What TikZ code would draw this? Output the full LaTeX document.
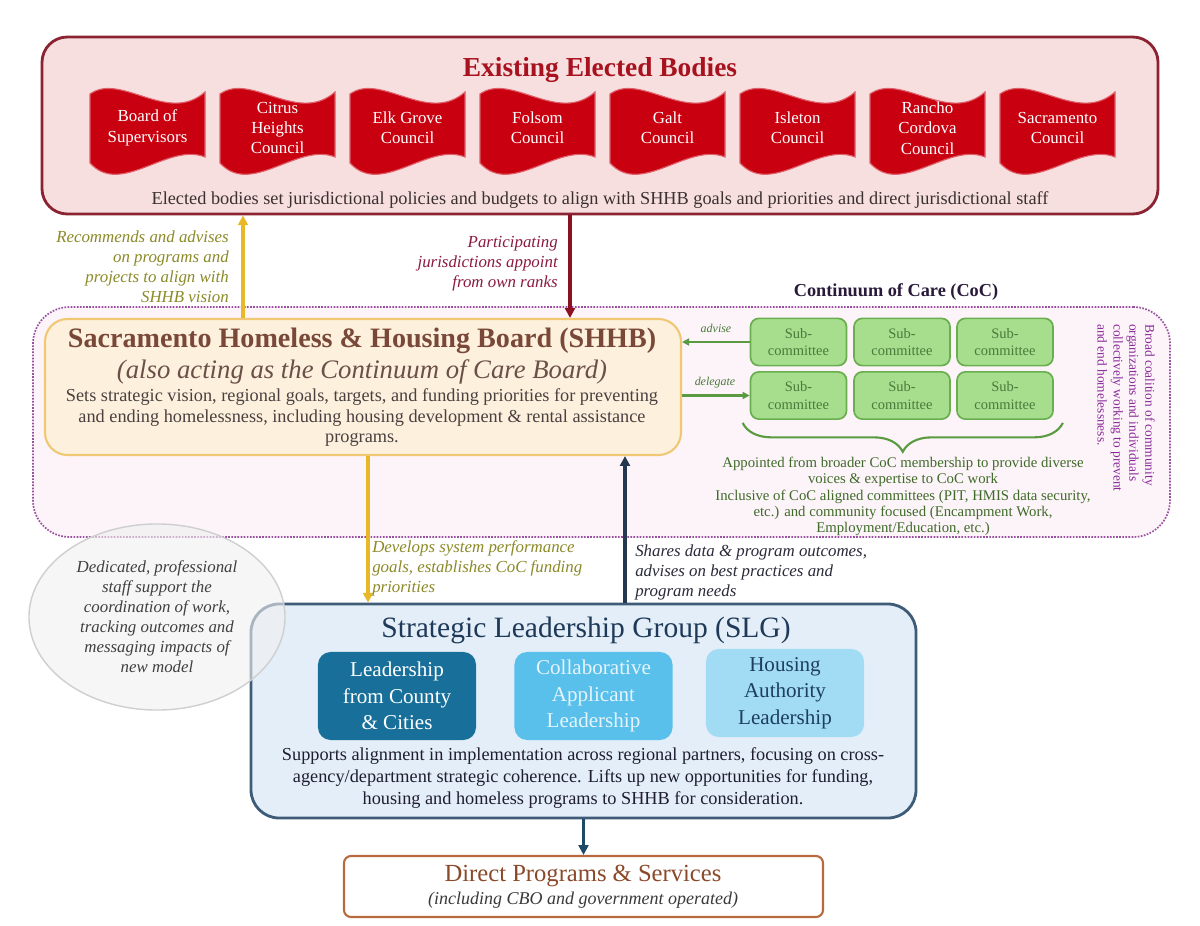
\documentclass[tikz,border=0pt]{standalone}
\usepackage{fontspec}
\setmainfont{Liberation Serif}
\usepackage{xcolor}
\usepackage{tikz}
\usetikzlibrary{arrows.meta,positioning,fit,shapes.geometric,decorations.pathreplacing,calc}

\definecolor{topfill}{HTML}{F7DFE0}
\definecolor{topline}{HTML}{8B2332}
\definecolor{toptitle}{HTML}{A8121E}
\definecolor{flagred}{HTML}{C8000F}
\definecolor{flagedge}{HTML}{E0606A}
\definecolor{captext}{HTML}{3A3030}
\definecolor{goldline}{HTML}{E8B828}
\definecolor{goldtext}{HTML}{8C8A28}
\definecolor{redline}{HTML}{8B1020}
\definecolor{redtext}{HTML}{8B1A40}
\definecolor{cocfill}{HTML}{FCF4F8}
\definecolor{cocline}{HTML}{9A50A0}
\definecolor{coctitle}{HTML}{2A1A3A}
\definecolor{cocside}{HTML}{8A2A9A}
\definecolor{shhbfill}{HTML}{FDF1DE}
\definecolor{shhbline}{HTML}{F0C874}
\definecolor{shhbtitle}{HTML}{7A4838}
\definecolor{shhbsub}{HTML}{6A5048}
\definecolor{shhbtext}{HTML}{4A4040}
\definecolor{subfill}{HTML}{A6DE8E}
\definecolor{subline}{HTML}{6AAE50}
\definecolor{subtext}{HTML}{4A7A3A}
\definecolor{greenline}{HTML}{5A9A40}
\definecolor{bracetext}{HTML}{3F6A2A}
\definecolor{navyline}{HTML}{243850}
\definecolor{navytext}{HTML}{2A2A3A}
\definecolor{ellfill}{HTML}{F0F0F0}
\definecolor{ellline}{HTML}{CFCFCF}
\definecolor{elltext}{HTML}{404040}
\definecolor{slgfill}{HTML}{E4EEF8}
\definecolor{slgline}{HTML}{3E5C78}
\definecolor{slgtitle}{HTML}{1E3A58}
\definecolor{slgtext}{HTML}{1E1E2E}
\definecolor{leadone}{HTML}{18709A}
\definecolor{leadtwo}{HTML}{58C0EA}
\definecolor{leadtwotext}{HTML}{E6F4FC}
\definecolor{leadthree}{HTML}{A2DCF4}
\definecolor{leadthreetext}{HTML}{1E3E60}
\definecolor{tealline}{HTML}{1E4A68}
\definecolor{directline}{HTML}{B86A3E}
\definecolor{directtitle}{HTML}{8A4A2A}
\definecolor{directsub}{HTML}{3A3A3A}

\begin{document}
\begin{tikzpicture}[x=0.025cm, y=-0.025cm,
	arrowgold/.style={draw=goldline, line width=2.2pt, -{Triangle[length=7pt,width=7pt]}},
	arrowred/.style={draw=redline, line width=2.2pt, -{Triangle[length=7pt,width=7pt]}},
	arrownavy/.style={draw=navyline, line width=2.2pt, -{Triangle[length=7pt,width=7pt]}},
	arrowgreen/.style={draw=greenline, line width=1.6pt, -{Triangle[length=5pt,width=5pt]}},
	subbox/.style={draw=subline, fill=subfill, line width=1.2pt, rounded corners=6pt, minimum width=2.4cm, minimum height=1.18cm, align=center, text=subtext, font=\fontsize{10.3}{12.5}\selectfont, inner sep=0pt},
	leadbox/.style={rounded corners=9pt, minimum width=3.95cm, minimum height=2.2cm, align=center, font=\fontsize{15}{19}\selectfont, inner sep=0pt},
	note/.style={font=\itshape\fontsize{12}{14.2}\selectfont, inner sep=0pt},
	]
	
	% 0. canvas
	\useasboundingbox (0,0) rectangle (1200,925);
	\fill[white] (0,0) rectangle (1200,925);
	
	% 1. existing elected bodies
	\node[fit={(42,37) (1158,214)}, inner sep=0pt, draw=topline, line width=2pt, fill=topfill, rounded corners=18pt] (top) {};
	\node[font=\bfseries\fontsize{19.5}{23}\selectfont, text=toptitle] (toptitle) at (600,70) {Existing Elected Bodies};
	
	% flags, one per body
	\foreach \txt [count=\i from 0] in {{Board of\\Supervisors}, {Citrus\\Heights\\Council}, {Elk Grove\\Council}, {Folsom\\Council}, {Galt\\Council}, {Isleton\\Council}, {Rancho\\Cordova\\Council}, {Sacramento\\Council}} {
		\begin{scope}[shift={(90+130*\i,85)}]
			\filldraw[fill=flagred, draw=flagedge, line width=0.8pt] (0,9) .. controls (31,-13) and (78,40) .. (115,7) -- (115,72) .. controls (78,57) and (31,112) .. (0,78) -- cycle;
			\node[text=white, align=center, font=\fontsize{12}{14.5}\selectfont] (flag\i) at (57.5,43) {\txt};
		\end{scope}
	}
	
	\node[font=\fontsize{13}{15}\selectfont, text=captext] (topcap) at (600,200) {Elected bodies set jurisdictional policies and budgets to align with SHHB goals and priorities and direct jurisdictional staff};
	
	% 2. continuum of care region
	\node[fit={(33,307) (1170,537)}, inner sep=0pt, draw=cocline, densely dotted, line width=1.2pt, fill=cocfill, rounded corners=26pt] (coc) {};
	\node[font=\bfseries\fontsize{13}{15}\selectfont, text=coctitle] (coctitle) at (896,292) {Continuum of Care (CoC)};
	
	% 3. SHHB
	\node[fit={(45,319) (681,455)}, inner sep=0pt, draw=shhbline, line width=1.5pt, fill=shhbfill, rounded corners=16pt] (shhb) {};
	\node[font=\bfseries\fontsize{20}{24}\selectfont, text=shhbtitle] (shhbtitle) at (362,341) {Sacramento Homeless \& Housing Board (SHHB)};
	\node[font=\itshape\fontsize{19}{23}\selectfont, text=shhbsub] (shhbsub) at (362,372) {(also acting as the Continuum of Care Board)};
	\node[align=center, font=\fontsize{13}{14.6}\selectfont, text=shhbtext] (shhbtext) at (362,418) {Sets strategic vision, regional goals, targets, and funding priorities for preventing\\and ending homelessness, including housing development \& rental assistance\\programs.};
	
	% subcommittees
	\foreach \r/\ry in {1/342, 2/395.5}
	\foreach \c/\cx in {1/798.5, 2/902, 3/1005}
	\node[subbox] (s\r\c) at (\cx,\ry) {Sub-\\committee};
	
	\draw[arrowgreen] (s11.west) -- (s11.west -| shhb.east);
	\draw[arrowgreen] (s21.west -| shhb.east) -- (s21.west);
	\node[font=\itshape\fontsize{8.5}{10}\selectfont, text=subtext] (advise) at (716,328) {advise};
	\node[font=\itshape\fontsize{8.5}{10}\selectfont, text=subtext] (delegate) at (715,383) {delegate};
	
	\draw[decorate, decoration={brace, amplitude=0.72cm, mirror}, draw=greenline, line width=1.5pt] ($(s21.south west)+(-7,3)$) -- ($(s23.south east)+(9,3)$);
	\node[anchor=north, align=center, font=\fontsize{10.5}{11.5}\selectfont, text=bracetext, inner sep=0pt] (cocnote) at (903,457) {Appointed from broader CoC membership to provide diverse\\voices \& expertise to CoC work\\Inclusive of CoC aligned committees (PIT, HMIS data security,\\etc.) and community focused (Encampment Work,\\Employment/Education, etc.)};
	
	\node[rotate=-90, anchor=north west, align=left, font=\fontsize{9.5}{11.3}\selectfont, text=cocside, inner sep=0pt] (cocside) at (1155,324) {Broad coalition of community\\organizations and individuals\\collectively working to prevent\\and end homelessness.};
	
	% 4. links between elected bodies and SHHB
	\coordinate (upx) at (243,0);
	\coordinate (downx) at (570,0);
	\draw[arrowgold] (shhb.north -| upx) -- (top.south -| upx);
	\draw[arrowred] (top.south -| downx) -- (shhb.north -| downx);
	\node[note, anchor=north east, align=right, text=goldtext] (recommend) at (229,231) {Recommends and advises\\on programs and\\projects to align with\\SHHB vision};
	\node[note, anchor=north east, align=right, text=redtext] (appoint) at (558,236) {Participating\\jurisdictions appoint\\from own ranks};
	
	% 5. SLG
	\node[fit={(251,604) (916,818)}, inner sep=0pt, draw=slgline, line width=2pt, fill=slgfill, rounded corners=20pt] (slg) {};
	\node[font=\fontsize{21}{25}\selectfont, text=slgtitle] (slgtitle) at (586,630) {Strategic Leadership Group (SLG)};
	\node[leadbox, fill=leadone, text=white] (county) at (397,696) {Leadership\\from County\\\& Cities};
	\node[leadbox, fill=leadtwo, text=leadtwotext] (cocapp) at (593.5,696) {Collaborative\\Applicant\\Leadership};
	\node[leadbox, fill=leadthree, text=leadthreetext] (housing) at (785,693) {Housing\\Authority\\Leadership};
	\node[align=center, font=\fontsize{13}{15.8}\selectfont, text=slgtext] (slgtext) at (583,778) {Supports alignment in implementation across regional partners, focusing on cross-\\agency/department strategic coherence. Lifts up new opportunities for funding,\\housing and homeless programs to SHHB for consideration.};
	
	% 6. staff support
	\node[ellipse, draw=ellline, fill=ellfill, fill opacity=0.6, text opacity=1, minimum width=6.4cm, minimum height=4.65cm, line width=1pt, align=center, font=\itshape\fontsize{12}{14.2}\selectfont, text=elltext] (staff) at (157,617) {Dedicated, professional\\staff support the\\coordination of work,\\tracking outcomes and\\messaging impacts of\\new model};
	
	% 7. links between SHHB and SLG
	\coordinate (devx) at (368,0);
	\coordinate (sharex) at (625,0);
	\draw[arrowgold] (shhb.south -| devx) -- (slg.north -| devx);
	\draw[arrownavy] (slg.north -| sharex) -- (shhb.south -| sharex);
	\node[note, anchor=north west, align=left, text=goldtext] (develop) at (372,540) {Develops system performance\\goals, establishes CoC funding\\priorities};
	\node[note, anchor=north west, align=left, text=navytext] (share) at (635,545) {Shares data \& program outcomes,\\advises on best practices and\\program needs};
	
	% 8. direct programs
	\node[fit={(344,856) (823,917)}, inner sep=0pt, draw=directline, line width=1.5pt, fill=white, rounded corners=5pt] (direct) {};
	\node[font=\fontsize{17.5}{20}\selectfont, text=directtitle] (directtitle) at (583,876) {Direct Programs \& Services};
	\node[font=\itshape\fontsize{12.8}{14}\selectfont, text=directsub] (directsub) at (583,900) {(including CBO and government operated)};
	\draw[draw=tealline, line width=2.2pt, -{Triangle[length=7pt,width=7pt]}] (slg.south) -- (direct.north);
	
\end{tikzpicture}
\end{document}
